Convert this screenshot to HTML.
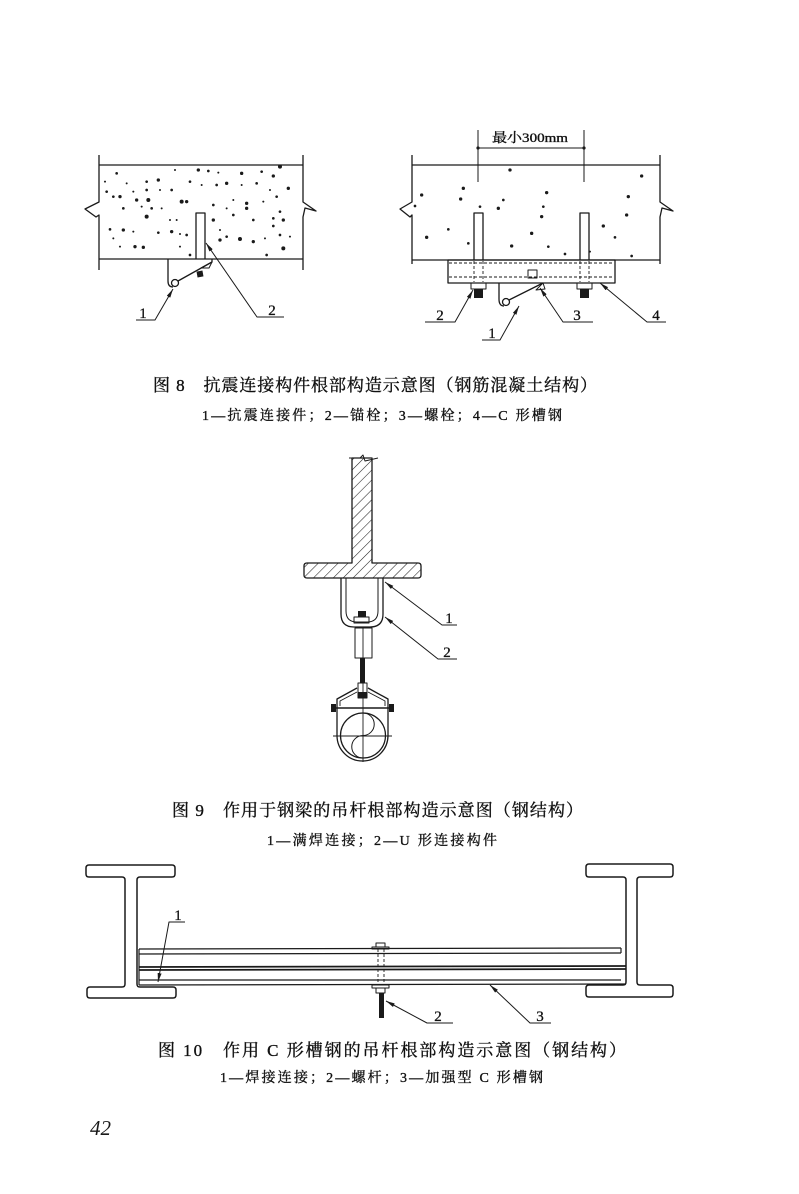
<!DOCTYPE html>
<html>
<head>
<meta charset="utf-8">
<style>
html,body{margin:0;padding:0;background:#fff;}
svg{display:block;}
.cj{font-family:"Liberation Serif","Noto Serif CJK SC","Noto Sans CJK SC",serif;fill:#111;stroke:#111;stroke-width:0.35px;}
.n{font-family:"Liberation Serif",serif;font-size:15px;fill:#111;stroke:#111;stroke-width:0.3px;}
</style>
</head>
<body>
<svg width="799" height="1194" viewBox="0 0 799 1194" xmlns="http://www.w3.org/2000/svg">
<defs>
<marker id="a" viewBox="0 0 9 4" refX="9" refY="2" markerWidth="9" markerHeight="4" markerUnits="userSpaceOnUse" orient="auto-start-reverse">
<path d="M0,0 L9,2 L0,4 Z" fill="#1a1a1a"/>
</marker>
<pattern id="h" patternUnits="userSpaceOnUse" width="7" height="7" patternTransform="rotate(45)">
<line x1="0" y1="0" x2="0" y2="7" stroke="#222" stroke-width="1.1"/>
</pattern>
</defs>
<rect width="799" height="1194" fill="#fff"/>

<g fill="none" stroke="#1a1a1a" stroke-width="1.3" stroke-linejoin="round">
<!-- ============ FIG 8 LEFT ============ -->
<line x1="99" y1="165" x2="303" y2="165"/>
<line x1="99" y1="259" x2="303" y2="259"/>
<polyline points="99,155 99,202 85,209 96,217 99,215 99,270"/>
<polyline points="303,155 303,202 316,211 305,208 303,217 303,270"/>
<polyline points="196,259 196,213 205,213 205,259"/>
<path d="M168,259 V281 Q168,287 173,287"/>
<circle cx="175" cy="283" r="3.5"/>
<polyline points="178,281 212,262 212,259"/>
<polygon points="201,268 212,262 209,268" stroke-width="1"/>
<polyline points="173,289 155,320 136,320" stroke-width="1" marker-start="url(#a)"/>
<polyline points="206,243 257,317 284,317" stroke-width="1" marker-start="url(#a)"/>

<!-- ============ FIG 8 RIGHT ============ -->
<line x1="478" y1="130" x2="478" y2="182" stroke-width="1"/>
<line x1="584" y1="130" x2="584" y2="182" stroke-width="1"/>
<line x1="478" y1="148" x2="584" y2="148" stroke-width="1"/>
<line x1="412" y1="165" x2="660" y2="165"/>
<line x1="412" y1="260" x2="660" y2="260"/>
<polyline points="412,155 412,202 400,209 410,217 412,215 412,264"/>
<polyline points="660,155 660,202 673,211 662,208 660,217 660,264"/>
<polyline points="474,260 474,213 483,213 483,260"/>
<polyline points="580,260 580,213 589,213 589,260"/>
<rect x="448" y="260" width="167" height="23"/>
<g stroke-width="0.9" stroke-dasharray="3,2">
<line x1="449" y1="263" x2="614" y2="263"/>
<line x1="449" y1="277" x2="614" y2="277"/>
<line x1="474" y1="261" x2="474" y2="282"/>
<line x1="483" y1="261" x2="483" y2="282"/>
<line x1="580" y1="261" x2="580" y2="282"/>
<line x1="589" y1="261" x2="589" y2="282"/>
</g>
<rect x="528" y="270" width="9" height="8" stroke-width="1"/>
<rect x="471" y="283" width="15" height="6" stroke-width="1"/>
<rect x="577" y="283" width="15" height="6" stroke-width="1"/>
<path d="M499,283 V299 Q499,306 504,306"/>
<circle cx="506" cy="302" r="3.5"/>
<polyline points="509,300 543,283"/>
<polygon points="536,290 543,283 545,289" stroke-width="1"/>
<polyline points="473,290 455,322 425,322" stroke-width="1" marker-start="url(#a)"/>
<polyline points="519,306 500,340 482,340" stroke-width="1" marker-start="url(#a)"/>
<polyline points="540,288 563,322 593,322" stroke-width="1" marker-start="url(#a)"/>
<polyline points="600,283 647,322 666,322" stroke-width="1" marker-start="url(#a)"/>

<!-- ============ FIG 9 ============ -->
<path d="M352,458 L372,458 L372,563 L418,563 Q421,563 421,566 L421,575 Q421,578 418,578 L307,578 Q304,578 304,575 L304,566 Q304,563 307,563 L352,563 Z" fill="url(#h)"/>
<polyline points="349,458 360,458 363,455 365,461 378,458" stroke-width="1"/>
<path d="M341,578 L341,614 Q341,627 354,627 L370,627 Q383,627 383,614 L383,578"/>
<path d="M346,578 L346,611 Q346,622 357,622 L367,622 Q378,622 378,611 L378,578" stroke-width="1"/>
<rect x="354" y="617" width="15" height="6" stroke-width="1"/>
<rect x="355" y="628" width="17" height="30" stroke-width="1"/>
<line x1="363" y1="628" x2="363" y2="658" stroke-width="0.9"/>
<rect x="358" y="683" width="9" height="15" stroke-width="1"/>
<path d="M357,688 L337,699 L337,735.5 A25.5,25.5 0 0 0 388,735.5 L388,699 L368,688"/>
<path d="M357,692 L340,701 L340,706 M368,692 L385,701 L385,706" stroke-width="0.9"/>
<line x1="331" y1="708" x2="394" y2="708" stroke-width="1.6"/>
<circle cx="363" cy="735.5" r="22.5"/>
<line x1="333" y1="736" x2="392" y2="736" stroke-width="0.9"/>
<line x1="363" y1="683" x2="363" y2="762" stroke-width="0.9"/>
<path d="M363,713 A11.25,11.25 0 0 1 363,735.5 A11.25,11.25 0 0 0 363,758" stroke-width="1"/>
<polyline points="385,582 442,625 457,625" stroke-width="1" marker-start="url(#a)"/>
<polyline points="385,617 438,659 457,659" stroke-width="1" marker-start="url(#a)"/>

<!-- ============ FIG 10 ============ -->
<path d="M89,865 H172 Q175,865 175,868 V874 Q175,877 172,877 H140 Q137,877 137,880 V984 Q137,987 140,987 H173 Q176,987 176,990 V995 Q176,998 173,998 H90 Q87,998 87,995 V990 Q87,987 90,987 H122 Q125,987 125,984 V880 Q125,877 122,877 H89 Q86,877 86,874 V868 Q86,865 89,865 Z" stroke-width="1.5"/>
<path d="M589,864 H670 Q673,864 673,867 V874 Q673,877 670,877 H640 Q637,877 637,880 V982 Q637,985 640,985 H670 Q673,985 673,988 V994 Q673,997 670,997 H589 Q586,997 586,994 V988 Q586,985 589,985 H623 Q626,985 626,982 V880 Q626,877 623,877 H589 Q586,877 586,874 V867 Q586,864 589,864 Z" stroke-width="1.5"/>
<line x1="139" y1="949" x2="621" y2="948" stroke-width="1.3"/>
<line x1="139" y1="954" x2="621" y2="953" stroke-width="1.3"/>
<line x1="139" y1="967" x2="626" y2="966" stroke-width="1.7"/>
<line x1="139" y1="970" x2="626" y2="969" stroke-width="1.7"/>
<line x1="139" y1="980" x2="621" y2="980" stroke-width="1.3"/>
<line x1="139" y1="985" x2="626" y2="984" stroke-width="1.3"/>
<line x1="139" y1="949" x2="139" y2="985" stroke-width="1.2"/>
<line x1="621" y1="948" x2="621" y2="953" stroke-width="1.2"/>
<rect x="376" y="943" width="9" height="4" stroke-width="1"/>
<rect x="372" y="947" width="17" height="2" stroke-width="1"/>
<line x1="378" y1="949" x2="378" y2="985" stroke-width="0.9" stroke-dasharray="3,2"/>
<line x1="384" y1="949" x2="384" y2="985" stroke-width="0.9" stroke-dasharray="3,2"/>
<rect x="372" y="985" width="17" height="3" stroke-width="1"/>
<rect x="376" y="988" width="9" height="5" stroke-width="1"/>
<polyline points="158,982 169,922 185,922" stroke-width="1" marker-start="url(#a)"/>
<polyline points="386,1001 427,1023 453,1023" stroke-width="1" marker-start="url(#a)"/>
<polyline points="490,985 530,1023 551,1023" stroke-width="1" marker-start="url(#a)"/>
</g>

<g fill="#1a1a1a">
<circle cx="478" cy="148" r="1.6"/>
<circle cx="584" cy="148" r="1.6"/>
<rect x="197" y="271" width="6" height="6" transform="rotate(-10 200 274)"/>
<rect x="474" y="289" width="9" height="9"/>
<rect x="580" y="289" width="9" height="9"/>
<rect x="358" y="611" width="8" height="6"/>
<rect x="360" y="658" width="5" height="25"/>
<rect x="358" y="692" width="9" height="6"/>
<rect x="331" y="704" width="5" height="8"/>
<rect x="389" y="704" width="5" height="8"/>
<rect x="379" y="993" width="5" height="25"/>
</g>

<g fill="#1a1a1a" transform="translate(80,140) scale(0.3333)">
<circle cx="110" cy="100" r="4"/><circle cx="140" cy="130" r="3"/><circle cx="200" cy="125" r="4"/><circle cx="235" cy="120" r="5"/>
<circle cx="285" cy="90" r="3"/><circle cx="355" cy="90" r="5"/><circle cx="385" cy="93" r="4"/><circle cx="415" cy="98" r="3"/>
<circle cx="485" cy="100" r="5"/><circle cx="545" cy="95" r="4"/><circle cx="580" cy="108" r="5"/><circle cx="600" cy="80" r="6"/>
<circle cx="75" cy="125" r="3"/><circle cx="80" cy="155" r="4"/><circle cx="100" cy="170" r="4"/><circle cx="120" cy="170" r="5"/>
<circle cx="160" cy="155" r="3"/><circle cx="200" cy="150" r="4"/><circle cx="240" cy="150" r="3"/><circle cx="275" cy="150" r="4"/>
<circle cx="330" cy="125" r="4"/><circle cx="365" cy="135" r="3"/><circle cx="410" cy="135" r="4"/><circle cx="440" cy="130" r="5"/>
<circle cx="485" cy="135" r="3"/><circle cx="530" cy="130" r="4"/><circle cx="570" cy="150" r="3"/><circle cx="625" cy="145" r="5"/>
<circle cx="170" cy="180" r="5"/><circle cx="205" cy="180" r="6"/><circle cx="305" cy="185" r="6"/><circle cx="320" cy="185" r="5"/>
<circle cx="400" cy="195" r="4"/><circle cx="460" cy="180" r="3"/><circle cx="500" cy="190" r="5"/><circle cx="550" cy="185" r="3"/>
<circle cx="590" cy="170" r="4"/><circle cx="130" cy="205" r="4"/><circle cx="185" cy="200" r="3"/><circle cx="215" cy="205" r="4"/>
<circle cx="245" cy="205" r="3"/><circle cx="440" cy="205" r="3"/><circle cx="500" cy="205" r="5"/><circle cx="600" cy="215" r="4"/>
<circle cx="200" cy="230" r="6"/><circle cx="270" cy="240" r="3"/><circle cx="290" cy="240" r="3"/><circle cx="400" cy="240" r="5"/>
<circle cx="460" cy="225" r="4"/><circle cx="520" cy="240" r="4"/><circle cx="580" cy="235" r="4"/><circle cx="610" cy="240" r="5"/>
<circle cx="90" cy="268" r="4"/><circle cx="130" cy="270" r="5"/><circle cx="160" cy="275" r="3"/><circle cx="235" cy="278" r="4"/>
<circle cx="275" cy="275" r="5"/><circle cx="300" cy="282" r="3"/><circle cx="320" cy="285" r="4"/><circle cx="420" cy="270" r="3"/>
<circle cx="440" cy="290" r="4"/><circle cx="480" cy="297" r="6"/><circle cx="520" cy="305" r="5"/><circle cx="555" cy="295" r="3"/>
<circle cx="600" cy="285" r="4"/><circle cx="630" cy="290" r="3"/><circle cx="100" cy="295" r="3"/><circle cx="165" cy="320" r="5"/>
<circle cx="190" cy="322" r="5"/><circle cx="300" cy="320" r="3"/><circle cx="420" cy="300" r="5"/><circle cx="560" cy="345" r="4"/>
<circle cx="610" cy="325" r="6"/><circle cx="330" cy="345" r="4"/><circle cx="120" cy="320" r="3"/><circle cx="580" cy="258" r="4"/>
</g>
<g fill="#1a1a1a" transform="translate(400,120) scale(0.3333)">
<circle cx="330" cy="150" r="5"/><circle cx="190" cy="205" r="5"/><circle cx="182" cy="237" r="5"/><circle cx="65" cy="225" r="5"/>
<circle cx="45" cy="258" r="4"/><circle cx="240" cy="260" r="4"/><circle cx="295" cy="265" r="5"/><circle cx="310" cy="240" r="4"/>
<circle cx="440" cy="218" r="5"/><circle cx="430" cy="260" r="4"/><circle cx="425" cy="290" r="5"/><circle cx="725" cy="168" r="5"/>
<circle cx="685" cy="230" r="5"/><circle cx="680" cy="285" r="5"/><circle cx="145" cy="328" r="4"/><circle cx="80" cy="352" r="5"/>
<circle cx="205" cy="370" r="4"/><circle cx="395" cy="340" r="5"/><circle cx="335" cy="378" r="5"/><circle cx="445" cy="380" r="4"/>
<circle cx="495" cy="402" r="4"/><circle cx="610" cy="318" r="5"/><circle cx="645" cy="352" r="4"/><circle cx="570" cy="395" r="3"/>
<circle cx="695" cy="408" r="4"/>
</g>

<text class="n" x="143" y="318" text-anchor="middle">1</text>
<text class="n" x="272" y="315" text-anchor="middle">2</text>
<text class="n" x="440" y="320" text-anchor="middle">2</text>
<text class="n" x="492" y="338" text-anchor="middle">1</text>
<text class="n" x="577" y="320" text-anchor="middle">3</text>
<text class="n" x="656" y="320" text-anchor="middle">4</text>
<text class="n" x="449" y="623" text-anchor="middle">1</text>
<text class="n" x="447" y="657" text-anchor="middle">2</text>
<text class="n" x="178" y="920" text-anchor="middle">1</text>
<text class="n" x="438" y="1021" text-anchor="middle">2</text>
<text class="n" x="540" y="1021" text-anchor="middle">3</text>

<text class="cj" x="492" y="142" font-size="13" textLength="76" lengthAdjust="spacingAndGlyphs">最小300mm</text>

<text class="cj" x="153" y="391" font-size="17" textLength="444" lengthAdjust="spacing">图 8　抗震连接构件根部构造示意图（钢筋混凝土结构）</text>
<text class="cj" x="202" y="420" font-size="14" textLength="360" lengthAdjust="spacing">1—抗震连接件；2—锚栓；3—螺栓；4—C 形槽钢</text>
<text class="cj" x="172" y="816" font-size="17" textLength="411" lengthAdjust="spacing">图 9　作用于钢梁的吊杆根部构造示意图（钢结构）</text>
<text class="cj" x="267" y="845" font-size="14" textLength="230" lengthAdjust="spacing">1—满焊连接；2—U 形连接构件</text>
<text class="cj" x="158" y="1056" font-size="17" textLength="468" lengthAdjust="spacing">图 10　作用 C 形槽钢的吊杆根部构造示意图（钢结构）</text>
<text class="cj" x="220" y="1082" font-size="14" textLength="323" lengthAdjust="spacing">1—焊接连接；2—螺杆；3—加强型 C 形槽钢</text>

<text x="90" y="1135" font-family="Liberation Serif, serif" font-style="italic" font-size="21" fill="#1a1a1a">42</text>
</svg>
</body>
</html>
